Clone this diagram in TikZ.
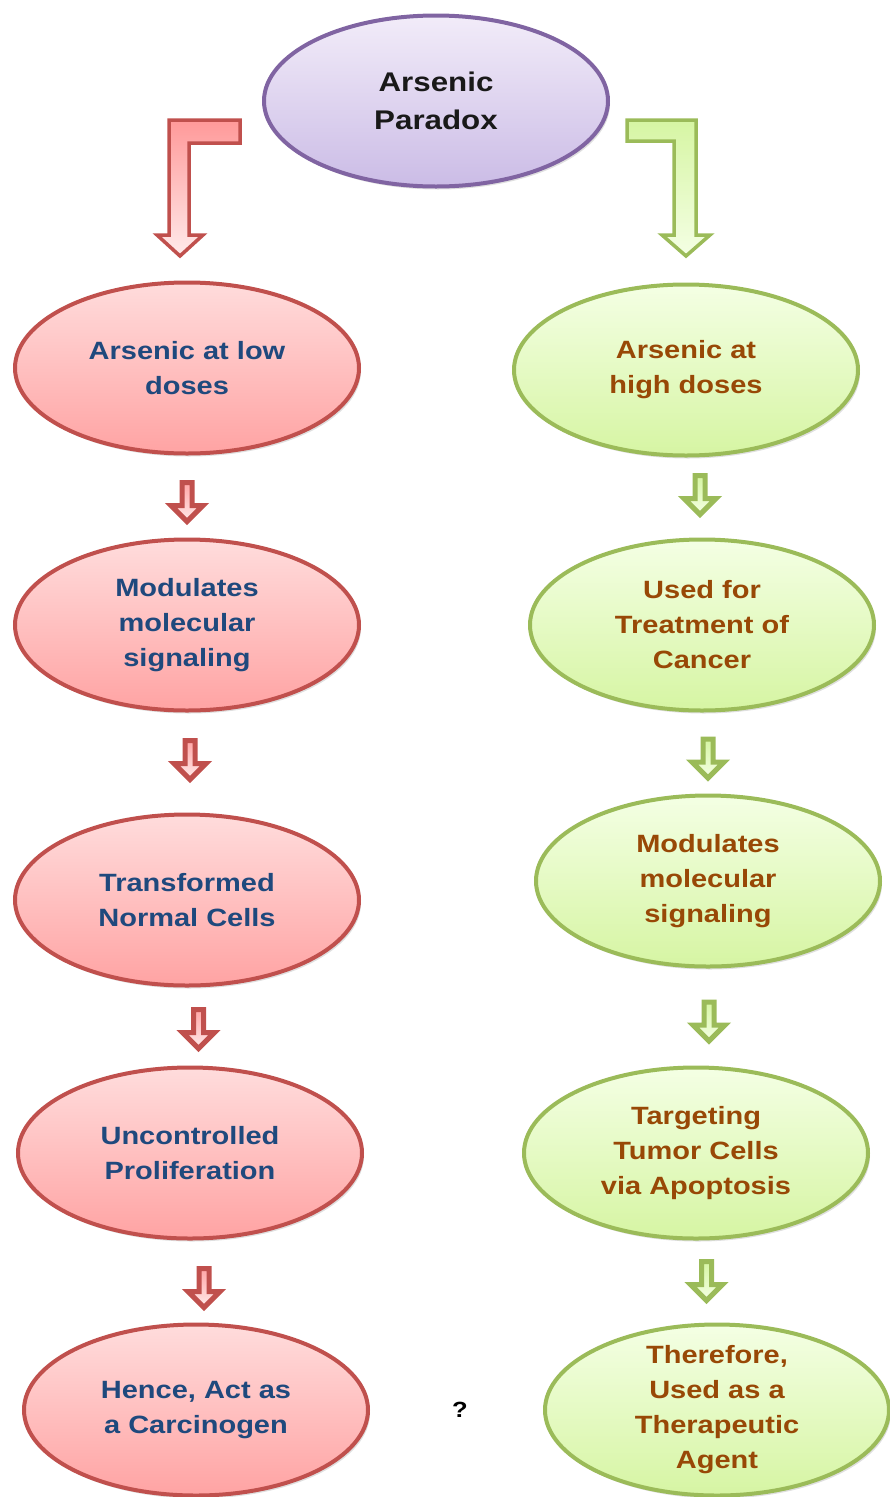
\documentclass[tikz,border=0pt]{standalone}
\usepackage{fontspec}
\setmainfont{Liberation Sans}[FakeStretch=1.16]
\usetikzlibrary{shapes.geometric,shadows,calc}

\definecolor{redline}{HTML}{C0504D}
\definecolor{redtop}{HTML}{FFDCDC}
\definecolor{redbot}{HTML}{FFA3A3}
\definecolor{greenline}{HTML}{9BBB59}
\definecolor{greentop}{HTML}{F4FFE4}
\definecolor{greenbot}{HTML}{D6F5A3}
\definecolor{purpline}{HTML}{8064A2}
\definecolor{purptop}{HTML}{F2ECF9}
\definecolor{purpbot}{HTML}{CBBCE6}
\definecolor{lowblue}{HTML}{1F497D}
\definecolor{highbrown}{HTML}{984806}

\tikzset{
  bubble/.style={ellipse, line width=4pt, minimum width=344pt, minimum height=171pt,
    drop shadow={shadow xshift=2pt, shadow yshift=-3pt, opacity=0.25, fill=black!50}},
  lowell/.style={bubble, draw=redline, top color=redtop, bottom color=redbot},
  highell/.style={bubble, draw=greenline, top color=greentop, bottom color=greenbot},
  topell/.style={bubble, draw=purpline, top color=purptop, bottom color=purpbot},
  lowtxt/.style={font=\bfseries\fontsize{25}{35}\selectfont, text=lowblue, align=center},
  hightxt/.style={font=\bfseries\fontsize{25}{35}\selectfont, text=highbrown, align=center},
  toptxt/.style={font=\bfseries\fontsize{27}{38}\selectfont, text=black!90, align=center},
  redarr/.style={draw=redline, line width=5pt, top color=red!35!white, bottom color=red!8!white},
  greenarr/.style={draw=greenline, line width=5pt, top color=greenbot, bottom color=greentop},
  pics/downarr/.style={code={
    \draw[#1] (-5,-20) -- (5,-20) -- (5,3) -- (16,3) -- (0,19)
      -- (-16,3) -- (-5,3) -- cycle;
  }}
}

\begin{document}
\begin{tikzpicture}[x=1pt,y=-1pt]
  \useasboundingbox (0,0) rectangle (890,1497);

  % top ellipse
  \node[topell, label={[toptxt]center:Arsenic\\Paradox}] (para) at (436,101) {};

  % low dose branch
  \node[lowell, label={[lowtxt]center:Arsenic at low\\doses}] (low) at (187,368) {};
  \node[lowell, label={[lowtxt]center:Modulates\\molecular\\signaling}] (modl) at (187,625) {};
  \node[lowell, label={[lowtxt]center:Transformed\\Normal Cells}] (trans) at (187,900) {};
  \node[lowell, label={[lowtxt]center:Uncontrolled\\Proliferation}] (unc) at (190,1153) {};
  \node[lowell, label={[lowtxt]center:{Hence, Act as\\a Carcinogen}}] (carc) at (196,1410) {};

  % high dose branch
  \node[highell, label={[hightxt]center:Arsenic at\\high doses}] (high) at (686,370) {};
  \node[highell, label={[hightxt]center:Used for\\Treatment of\\Cancer}] (treat) at (702,625) {};
  \node[highell, label={[hightxt]center:Modulates\\molecular\\signaling}] (modr) at (708,881) {};
  \node[highell, label={[hightxt]center:Targeting\\Tumor Cells\\via Apoptosis}] (targ) at (696,1153) {};
  \node[highell, label={[hightxt]center:{Therefore,\\Used as a\\Therapeutic\\Agent}}] (ther) at (717,1410) {};

  \node[font=\bfseries\fontsize{22}{26}\selectfont] (quest) at (460,1410) {?};

  % bent arrows from the top
  \draw[redline, line width=3.5pt, top color=red!40!white, bottom color=red!8!white]
    (240,120) -- (169,120) -- (169,235) -- (157,235) -- (180,256) -- (203,235)
    -- (189,235) -- (189,143) -- (240,143) -- cycle;
  \draw[greenline, line width=3.5pt, top color=greenbot, bottom color=greentop]
    (627,120) -- (696,120) -- (696,235) -- (710,235) -- (686,256) -- (662,235)
    -- (674,235) -- (674,141) -- (627,141) -- cycle;

  % small arrows
  \pic at ($(low.south)!.5!(modl.north)+(0,6)$) {downarr=redarr};
  \pic at ($(modl.south)!.5!(trans.north)+(3,-2)$) {downarr=redarr};
  \pic at ($(trans.south)!.5!(unc.north)+(10,3)$) {downarr=redarr};
  \pic at ($(unc.south)!.5!(carc.north)+(11,7)$) {downarr=redarr};
  \pic at ($(high.south)!.5!(treat.north)+(6,-2)$) {downarr=greenarr};
  \pic at ($(treat.south)!.5!(modr.north)+(3,6)$) {downarr=greenarr};
  \pic at ($(modr.south)!.5!(targ.north)+(7,5)$) {downarr=greenarr};
  \pic at ($(targ.south)!.5!(ther.north)$) {downarr=greenarr};
\end{tikzpicture}
\end{document}
